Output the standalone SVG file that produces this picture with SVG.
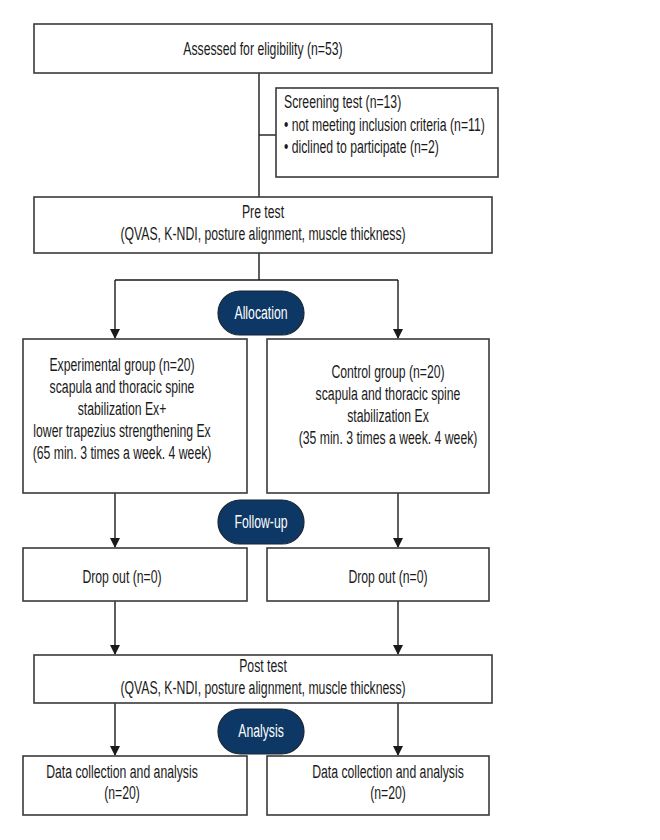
<svg xmlns="http://www.w3.org/2000/svg" width="660" height="840" viewBox="0 0 660 840">
<defs>
<marker id="ah" markerWidth="10" markerHeight="12" refX="9" refY="5" orient="auto" markerUnits="userSpaceOnUse">
<path d="M0,0 L10,5 L0,10 z" fill="#1a1a1a"/>
</marker>
<style>
.box{fill:#fff;stroke:#3a3a3a;stroke-width:1.6}
.pill{fill:#0d3764;stroke:#1c2430;stroke-width:1.2}
.t{font-family:"Liberation Sans",Arial,sans-serif;font-size:18px;fill:#1a1a1a}
.c{text-anchor:middle}
.w{fill:#fff}
.ln{fill:none;stroke:#1a1a1a;stroke-width:1.4}
</style>
</defs>
<rect width="660" height="840" fill="#fff"/>
<g id="connectors">
<path class="ln" d="M259,73 V197"/>
<path class="ln" d="M259,135 H276"/>
<path class="ln" d="M259,253 V280 M115,280 H398"/>
<path class="ln" d="M115,280 V338" marker-end="url(#ah)"/>
<path class="ln" d="M398,280 V338" marker-end="url(#ah)"/>
<path class="ln" d="M115,493 V547" marker-end="url(#ah)"/>
<path class="ln" d="M398,493 V547" marker-end="url(#ah)"/>
<path class="ln" d="M115,601 V654" marker-end="url(#ah)"/>
<path class="ln" d="M398,601 V654" marker-end="url(#ah)"/>
<path class="ln" d="M115,703 V755" marker-end="url(#ah)"/>
<path class="ln" d="M398,703 V755" marker-end="url(#ah)"/>
</g>
<g id="assessed">
<rect class="box" x="34" y="24" width="458" height="49"/>
<g transform="translate(263,0) scale(0.68,1)">
<text class="t c" x="0" y="55">Assessed for eligibility (n=53)</text>
</g>
</g>
<g id="screening">
<rect class="box" x="276" y="88" width="222" height="89"/>
<g transform="translate(284,0) scale(0.68,1)">
<text class="t" x="0" y="108">Screening test (n=13)</text>
<text class="t" x="0" y="131">• not meeting inclusion criteria (n=11)</text>
<text class="t" x="0" y="153">• diclined to participate (n=2)</text>
</g>
</g>
<g id="pretest">
<rect class="box" x="34" y="197" width="458" height="56"/>
<g transform="translate(263,0) scale(0.68,1)">
<text class="t c" x="0" y="218">Pre test</text>
<text class="t c" x="0" y="240">(QVAS, K-NDI, posture alignment, muscle thickness)</text>
</g>
</g>
<g id="allocation">
<rect class="pill" x="218" y="291" width="86" height="44" rx="22"/>
<g transform="translate(261,0) scale(0.68,1)">
<text class="t c w" x="0" y="319">Allocation</text>
</g>
</g>
<g id="experimental">
<rect class="box" x="23" y="339" width="224" height="154"/>
<g transform="translate(122,0) scale(0.68,1)">
<text class="t c" x="0" y="371">Experimental group (n=20)</text>
<text class="t c" x="0" y="393">scapula and thoracic spine</text>
<text class="t c" x="0" y="415">stabilization Ex+</text>
<text class="t c" x="0" y="437">lower trapezius strengthening Ex</text>
<text class="t c" x="0" y="459">(65 min. 3 times a week. 4 week)</text>
</g>
</g>
<g id="control">
<rect class="box" x="267" y="339" width="222" height="154"/>
<g transform="translate(388,0) scale(0.68,1)">
<text class="t c" x="0" y="378">Control group (n=20)</text>
<text class="t c" x="0" y="400">scapula and thoracic spine</text>
<text class="t c" x="0" y="422">stabilization Ex</text>
<text class="t c" x="0" y="444">(35 min. 3 times a week. 4 week)</text>
</g>
</g>
<g id="followup">
<rect class="pill" x="218" y="500" width="86" height="44" rx="22"/>
<g transform="translate(261,0) scale(0.68,1)">
<text class="t c w" x="0" y="528">Follow-up</text>
</g>
</g>
<g id="dropout-exp">
<rect class="box" x="23" y="548" width="224" height="53"/>
<g transform="translate(122,0) scale(0.68,1)">
<text class="t c" x="0" y="583">Drop out (n=0)</text>
</g>
</g>
<g id="dropout-ctl">
<rect class="box" x="267" y="548" width="222" height="53"/>
<g transform="translate(388,0) scale(0.68,1)">
<text class="t c" x="0" y="583">Drop out (n=0)</text>
</g>
</g>
<g id="posttest">
<rect class="box" x="34" y="655" width="458" height="48"/>
<g transform="translate(263,0) scale(0.68,1)">
<text class="t c" x="0" y="672">Post test</text>
<text class="t c" x="0" y="694">(QVAS, K-NDI, posture alignment, muscle thickness)</text>
</g>
</g>
<g id="analysis">
<rect class="pill" x="218" y="709" width="86" height="45" rx="22.5"/>
<g transform="translate(261,0) scale(0.68,1)">
<text class="t c w" x="0" y="737">Analysis</text>
</g>
</g>
<g id="data-exp">
<rect class="box" x="23" y="756" width="224" height="59"/>
<g transform="translate(122,0) scale(0.68,1)">
<text class="t c" x="0" y="778">Data collection and analysis</text>
<text class="t c" x="0" y="799">(n=20)</text>
</g>
</g>
<g id="data-ctl">
<rect class="box" x="267" y="756" width="222" height="59"/>
<g transform="translate(388,0) scale(0.68,1)">
<text class="t c" x="0" y="778">Data collection and analysis</text>
<text class="t c" x="0" y="799">(n=20)</text>
</g>
</g>
</svg>
